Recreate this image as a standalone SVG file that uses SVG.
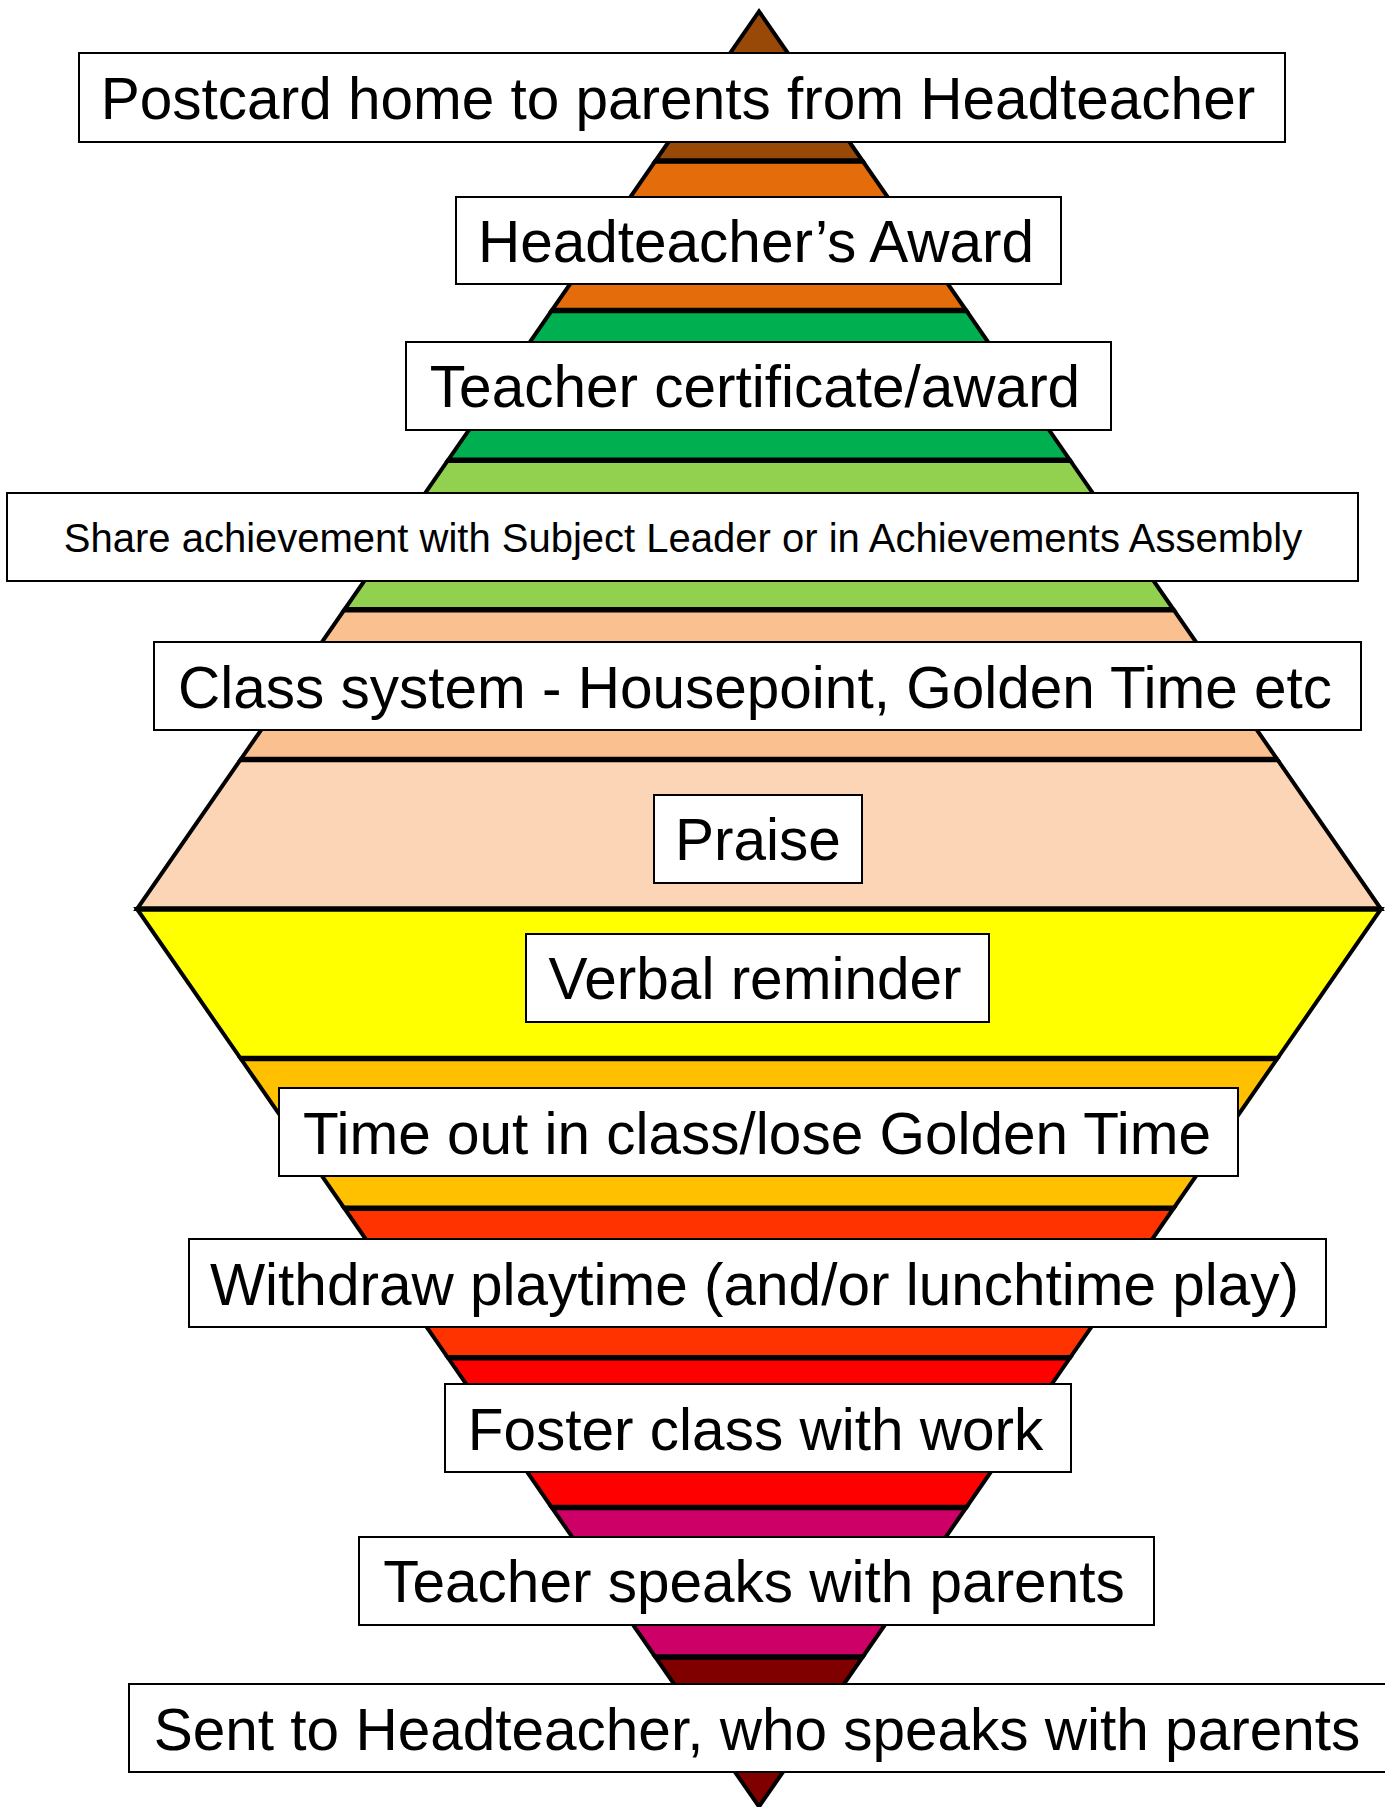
<svg xmlns="http://www.w3.org/2000/svg" width="1385" height="1807" viewBox="0 0 1385 1807">
<style>
.band{stroke:#000;stroke-width:4;stroke-linejoin:miter;stroke-miterlimit:10}
.sep{stroke:#000;stroke-width:5.5}
.box{fill:#fff;stroke:#000;stroke-width:2}
.lbl{font-family:"Liberation Sans",Arial,sans-serif;font-size:58.5px;fill:#000;text-anchor:middle}
.small{font-size:40px}
</style>
<rect width="1385" height="1807" fill="#fff"/>
<g id="level-1">
<polygon class="band" fill="#984807" points="759,11.4 862.7,161 655.3,161"/>
<rect class="box" x="79" y="53" width="1206" height="89"/>
<text class="lbl" x="678" y="119">Postcard home to parents from Headteacher</text>
</g>
<g id="level-2">
<polygon class="band" fill="#E46C0A" points="655.3,161 862.7,161 966.3,310.6 551.7,310.6"/>
<rect class="box" x="456" y="197" width="605" height="87"/>
<text class="lbl" x="756" y="262">Headteacher’s Award</text>
</g>
<g id="level-3">
<polygon class="band" fill="#00B050" points="551.7,310.6 966.3,310.6 1070,460.2 448,460.2"/>
<rect class="box" x="406" y="342" width="705" height="88"/>
<text class="lbl" x="755" y="407">Teacher certificate/award</text>
</g>
<g id="level-4">
<polygon class="band" fill="#92D050" points="448,460.2 1070,460.2 1173.7,609.8 344.3,609.8"/>
<rect class="box" x="7" y="493" width="1351" height="88"/>
<text class="lbl small" x="683" y="552">Share achievement with Subject Leader or in Achievements Assembly</text>
</g>
<g id="level-5">
<polygon class="band" fill="#FAC090" points="344.3,609.8 1173.7,609.8 1277.3,759.4 240.7,759.4"/>
<rect class="box" x="154" y="642" width="1207" height="88"/>
<text class="lbl" x="755" y="708">Class system - Housepoint, Golden Time etc</text>
</g>
<g id="level-6">
<polygon class="band" fill="#FBD5B5" points="240.7,759.4 1277.3,759.4 1381,909 137,909"/>
<rect class="box" x="654" y="795" width="208" height="88"/>
<text class="lbl" x="758" y="860">Praise</text>
</g>
<g id="level-7">
<polygon class="band" fill="#FFFF00" points="137,909 1381,909 1277.3,1058.6 240.7,1058.6"/>
<rect class="box" x="526" y="934" width="463" height="88"/>
<text class="lbl" x="755" y="999">Verbal reminder</text>
</g>
<g id="level-8">
<polygon class="band" fill="#FFC000" points="240.7,1058.6 1277.3,1058.6 1173.7,1208.2 344.3,1208.2"/>
<rect class="box" x="279" y="1088" width="959" height="88"/>
<text class="lbl" x="757" y="1154">Time out in class/lose Golden Time</text>
</g>
<g id="level-9">
<polygon class="band" fill="#FF3300" points="344.3,1208.2 1173.7,1208.2 1070,1357.8 448,1357.8"/>
<rect class="box" x="189" y="1239" width="1137" height="88"/>
<text class="lbl" x="754.5" y="1305">Withdraw playtime (and/or lunchtime play)</text>
</g>
<g id="level-10">
<polygon class="band" fill="#FF0000" points="448,1357.8 1070,1357.8 966.3,1507.4 551.7,1507.4"/>
<rect class="box" x="445" y="1384" width="626" height="88"/>
<text class="lbl" x="755.5" y="1450">Foster class with work</text>
</g>
<g id="level-11">
<polygon class="band" fill="#CC0066" points="551.7,1507.4 966.3,1507.4 862.7,1657 655.3,1657"/>
<rect class="box" x="359" y="1537" width="795" height="88"/>
<text class="lbl" x="754" y="1602">Teacher speaks with parents</text>
</g>
<g id="level-12">
<polygon class="band" fill="#800000" points="655.3,1657 862.7,1657 759,1806.6"/>
<rect class="box" x="129" y="1684" width="1262" height="88"/>
<text class="lbl" x="757" y="1750">Sent to Headteacher, who speaks with parents</text>
</g>
<g id="separators">
<line class="sep" x1="655.3" y1="161" x2="862.7" y2="161"/>
<line class="sep" x1="551.7" y1="310.6" x2="966.3" y2="310.6"/>
<line class="sep" x1="448" y1="460.2" x2="1070" y2="460.2"/>
<line class="sep" x1="344.3" y1="609.8" x2="1173.7" y2="609.8"/>
<line class="sep" x1="240.7" y1="759.4" x2="1277.3" y2="759.4"/>
<line class="sep" x1="137" y1="909" x2="1381" y2="909"/>
<line class="sep" x1="240.7" y1="1058.6" x2="1277.3" y2="1058.6"/>
<line class="sep" x1="344.3" y1="1208.2" x2="1173.7" y2="1208.2"/>
<line class="sep" x1="448" y1="1357.8" x2="1070" y2="1357.8"/>
<line class="sep" x1="551.7" y1="1507.4" x2="966.3" y2="1507.4"/>
<line class="sep" x1="655.3" y1="1657" x2="862.7" y2="1657"/>
</g>
</svg>
